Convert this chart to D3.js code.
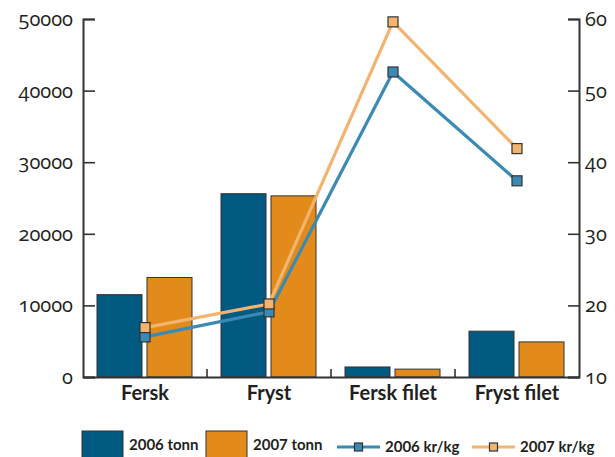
<!DOCTYPE html>
<html><head><meta charset="utf-8">
<script src="https://cdn.jsdelivr.net/npm/d3@7"></script>
<style>
html,body{margin:0;padding:0;background:#fff;}
svg{display:block;}
text{font-family:Lato,"Open Sans",sans-serif;fill:#231f20;}
.num{font-family:"Open Sans",Lato,sans-serif;font-variant-numeric:oldstyle-nums;font-feature-settings:"onum" 1;}
</style></head>
<body>
<svg id="chart" width="615" height="457"></svg>
<script>
const categories = ["Fersk", "Fryst", "Fersk filet", "Fryst filet"];
const tonn2006 = [11500, 25600, 1400, 6400];
const tonn2007 = [13900, 25300, 1100, 4900];
const krkg2006 = [15.6, 19.1, 52.6, 37.4];
const krkg2007 = [16.9, 20.2, 59.6, 41.9];
const leftTicks = [0, 10000, 20000, 30000, 40000, 50000];
const rightTicks = [10, 20, 30, 40, 50, 60];
const seriesNames = ["2006 tonn", "2007 tonn", "2006 kr/kg", "2007 kr/kg"];

const col = {b06:"#005a82", b07:"#e28b1b", l06:"#3b8ab3", l07:"#f2b46e", ax:"#333"};
const svg = d3.select("#chart");
const L = 83, R = 579, T = 19, B = 377;

const x = d3.scaleBand().domain(categories).range([L, R]).paddingInner(0).paddingOuter(0);
const xs = d3.scaleBand().domain([0,1]).range([14, 124-15]).paddingInner(0.1);
const yL = d3.scaleLinear().domain([0, 50000]).range([B, T]);
const yR = d3.scaleLinear().domain([10, 60]).range([B, T]);

// bars
const barSeries = [tonn2006, tonn2007];
const barCols = [col.b06, col.b07];
barSeries.forEach((s, si) => {
  svg.append("g").selectAll("rect").data(s).join("rect")
    .attr("x", (d,i) => x(categories[i]) + xs(si))
    .attr("width", xs.bandwidth())
    .attr("y", d => yL(d))
    .attr("height", d => B - yL(d))
    .attr("fill", barCols[si])
    .attr("stroke", "#333").attr("stroke-width", 1);
});

// axes
const gL = svg.append("g").attr("transform", `translate(${L},0)`)
  .call(d3.axisRight(yL).tickValues(leftTicks).tickSize(12).tickFormat(""));
const gR = svg.append("g").attr("transform", `translate(${R},0)`)
  .call(d3.axisLeft(yR).tickValues(rightTicks).tickSize(11).tickFormat(""));
const gB = svg.append("g").attr("transform", `translate(0,${B})`)
  .call(d3.axisTop(x).tickValues([]).tickSize(0).tickFormat(""));
[gL, gR, gB].forEach(g => {
  g.select(".domain").attr("stroke", col.ax).attr("stroke-width", 2);
  g.selectAll(".tick line").attr("stroke", col.ax).attr("stroke-width", 1.6);
});
// category boundary ticks
svg.append("g").selectAll("line").data(categories.slice(1)).join("line")
  .attr("x1", d => x(d)).attr("x2", d => x(d))
  .attr("y1", B).attr("y2", B - 8)
  .attr("stroke", col.ax).attr("stroke-width", 1.6);

// tick labels
svg.append("g").selectAll("text").data(leftTicks).join("text")
  .attr("class","num")
  .attr("x", 73).attr("y", d => yL(d) + 7)
  .attr("text-anchor", "end").attr("font-size", 20)
  .text(d => d);
svg.append("g").selectAll("text").data(rightTicks).join("text")
  .attr("class","num")
  .attr("x", 585).attr("y", d => yR(d) + 7)
  .attr("text-anchor", "start").attr("font-size", 20)
  .text(d => d);
svg.append("g").selectAll("text").data(categories).join("text")
  .attr("x", d => x(d) + x.bandwidth()/2).attr("y", 400)
  .attr("text-anchor", "middle").attr("font-size", 20).attr("font-weight", "bold")
  .text(d => d);

// lines
const cx = i => x(categories[i]) + x.bandwidth()/2;
const lineSeries = [krkg2006, krkg2007];
const lineCols = [col.l06, col.l07];
const line = d3.line().x((d,i) => cx(i)).y(d => yR(d));
lineSeries.forEach((s, si) => {
  svg.append("path").datum(s).attr("d", line)
    .attr("fill", "none").attr("stroke", lineCols[si]).attr("stroke-width", 3.2)
    .attr("stroke-linejoin", "round");
});
lineSeries.forEach((s, si) => {
  svg.append("g").selectAll("rect").data(s).join("rect")
    .attr("x", (d,i) => cx(i) - 5).attr("y", d => yR(d) - 5)
    .attr("width", 10).attr("height", 10)
    .attr("fill", lineCols[si]).attr("stroke", "#333").attr("stroke-width", 1.2);
});

// legend
const lg = svg.append("g");
const boxX = [82, 206];
[0,1].forEach(i => {
  lg.append("rect").attr("x", boxX[i]).attr("y", 431).attr("width", 41).attr("height", 30)
    .attr("fill", barCols[i]).attr("stroke", "#333").attr("stroke-width", 1);
  lg.append("text").attr("x", boxX[i] + 47).attr("y", 450)
    .attr("font-size", 15).attr("font-weight", "bold").text(seriesNames[i]);
});
const lineX = [337, 472];
[0,1].forEach(i => {
  lg.append("line").attr("x1", lineX[i]).attr("x2", lineX[i] + 43)
    .attr("y1", 447).attr("y2", 447).attr("stroke", lineCols[i]).attr("stroke-width", 3.2);
  lg.append("rect").attr("x", lineX[i] + 17.5).attr("y", 443).attr("width", 8).attr("height", 8)
    .attr("fill", lineCols[i]).attr("stroke", "#333").attr("stroke-width", 1.2);
  lg.append("text").attr("x", lineX[i] + 48).attr("y", 452)
    .attr("font-size", 15).attr("font-weight", "bold").text(seriesNames[i + 2]);
});
</script>
</body></html>
